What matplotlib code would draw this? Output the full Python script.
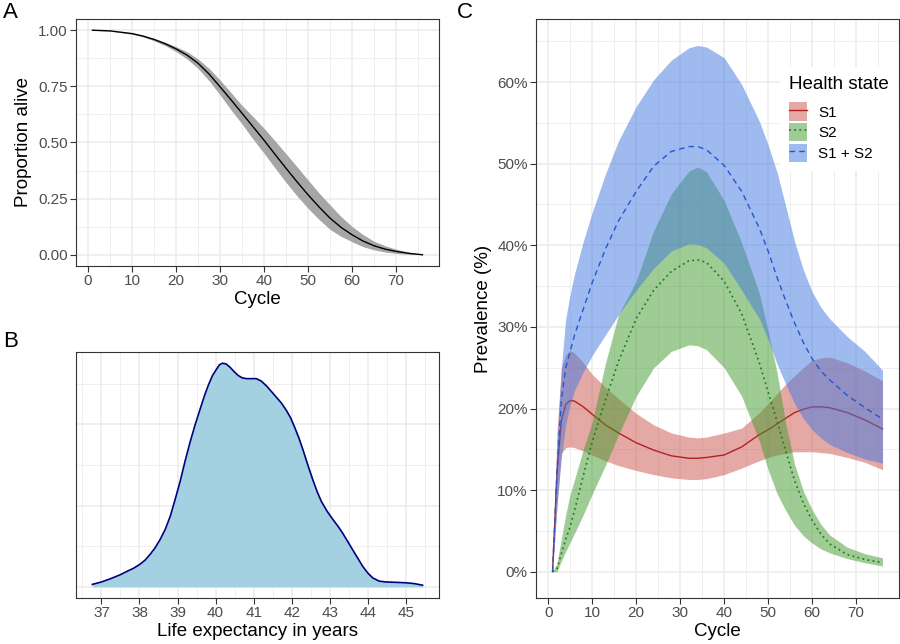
import numpy as np
import matplotlib
matplotlib.use("Agg")
import matplotlib.pyplot as plt
from matplotlib.patches import Patch
from matplotlib.lines import Line2D
from matplotlib.legend_handler import HandlerTuple
from matplotlib.ticker import MultipleLocator, FormatStrFormatter, PercentFormatter, NullFormatter

plt.rcParams['font.family'] = ['Liberation Sans', 'DejaVu Sans']

# ---- data ----
# A) survival curve
cycles_a = [1, 5, 10, 12.5, 15, 17.5, 20, 22.5, 25, 27.5, 30, 32.5, 35, 37.5, 40, 42.5, 45,
            47.5, 50, 52.5, 55, 57.5, 60, 62.5, 65, 67.5, 70, 73, 76]
surv_mean = [1.000, 0.997, 0.985, 0.974, 0.959, 0.940, 0.917, 0.889, 0.853, 0.805, 0.748,
             0.690, 0.630, 0.570, 0.510, 0.447, 0.385, 0.325, 0.267, 0.213, 0.163, 0.122,
             0.089, 0.061, 0.040, 0.025, 0.015, 0.006, 0.000]
surv_lo = [1.000, 0.996, 0.982, 0.970, 0.953, 0.932, 0.905, 0.872, 0.830, 0.775, 0.712,
           0.645, 0.582, 0.515, 0.452, 0.386, 0.322, 0.262, 0.207, 0.157, 0.113, 0.082,
           0.058, 0.036, 0.022, 0.012, 0.006, 0.002, 0.000]
surv_hi = [1.000, 0.998, 0.988, 0.977, 0.964, 0.947, 0.927, 0.904, 0.872, 0.830, 0.778,
           0.722, 0.665, 0.615, 0.563, 0.507, 0.450, 0.392, 0.333, 0.275, 0.222, 0.170,
           0.126, 0.090, 0.060, 0.040, 0.025, 0.011, 0.001]

# B) density of life expectancy
le_years = [36.76, 37.0, 37.24, 37.5, 37.67, 37.85, 38.02, 38.15, 38.28, 38.41, 38.54, 38.68,
            38.81, 38.94, 39.07, 39.2, 39.33, 39.46, 39.59, 39.70, 39.81, 39.92, 40.03, 40.10,
            40.18, 40.28, 40.38, 40.48, 40.59, 40.70, 40.81, 40.94, 41.07, 41.2, 41.34, 41.47,
            41.60, 41.73, 41.86, 41.97, 42.08, 42.19, 42.30, 42.43, 42.56, 42.67, 42.78, 42.93,
            43.08, 43.21, 43.34, 43.47, 43.61, 43.74, 43.87, 44.0, 44.13, 44.3, 44.48, 44.75,
            45.0, 45.22, 45.44]
le_density = [0.003, 0.006, 0.010, 0.015, 0.019, 0.023, 0.028, 0.033, 0.040, 0.048, 0.058,
              0.071, 0.087, 0.108, 0.130, 0.155, 0.178, 0.199, 0.218, 0.234, 0.248, 0.260,
              0.268, 0.273, 0.275, 0.274, 0.270, 0.265, 0.260, 0.257, 0.256, 0.256, 0.256,
              0.253, 0.247, 0.240, 0.233, 0.226, 0.217, 0.208, 0.196, 0.183, 0.168, 0.149,
              0.131, 0.117, 0.105, 0.093, 0.083, 0.075, 0.066, 0.056, 0.045, 0.035, 0.025,
              0.017, 0.011, 0.007, 0.006, 0.0055, 0.005, 0.004, 0.002]

# C) prevalence by health state (%)
cycles_c = [1, 2, 3, 4, 5, 6, 8, 10, 13, 16, 20, 24, 28, 32, 34, 36, 40, 44, 48, 50, 52, 54,
            56, 58, 60, 62, 64, 68, 72, 76]
s1_mean = [0, 12, 18.5, 20.5, 21.0, 20.9, 20.2, 19.3, 18.0, 17.0, 15.8, 14.9, 14.2, 13.9,
           13.9, 14.0, 14.3, 15.3, 16.8, 17.4, 18.1, 18.8, 19.5, 19.9, 20.2, 20.2, 20.1,
           19.5, 18.6, 17.5]
s1_lo = [0, 8, 14.5, 15.2, 15.3, 15.2, 14.8, 14.3, 13.6, 13.0, 12.4, 11.9, 11.5, 11.3,
         11.3, 11.4, 11.9, 12.7, 13.6, 14.0, 14.3, 14.5, 14.7, 14.7, 14.7, 14.6, 14.5,
         14.0, 13.4, 12.5]
s1_hi = [0, 17, 25.0, 26.6, 27.1, 26.8, 25.6, 24.2, 22.6, 21.2, 19.4, 18.0, 17.0, 16.5,
         16.4, 16.5, 17.0, 17.6, 19.5, 20.6, 21.8, 23.0, 24.0, 25.0, 25.9, 26.2, 26.3,
         25.6, 24.6, 23.4]
s2_mean = [0, 0.3, 2.2, 4.0, 5.5, 7.5, 11.8, 15.9, 21.0, 25.8, 31.0, 34.5, 36.8, 38.1,
           38.2, 37.9, 35.6, 31.6, 25.6, 22.0, 18.5, 14.8, 11.2, 8.4, 6.3, 4.6, 3.4, 2.1,
           1.5, 1.1]
s2_lo = [0, 0, 1.3, 2.5, 3.6, 4.7, 7.0, 9.5, 13.0, 16.8, 21.5, 25.0, 27.0, 27.8, 27.7,
         27.2, 25.0, 21.5, 16.0, 12.5, 9.6, 7.5, 5.7, 4.4, 3.5, 2.8, 2.3, 1.6, 1.1, 0.7]
s2_hi = [0, 1.0, 4.0, 7.0, 9.5, 11.3, 15.0, 18.3, 25.5, 31.5, 35.6, 41.8, 46.3, 49.1,
         49.6, 49.0, 45.5, 40.3, 34.1, 29.5, 24.5, 18.2, 13.2, 9.9, 7.6, 5.8, 4.5, 3.0,
         2.2, 1.7]
s12_mean = [0, 12, 21, 25, 27.0, 29.0, 32.2, 35.4, 39.5, 43.0, 46.6, 49.7, 51.5, 52.1,
            52.1, 51.7, 49.8, 46.6, 42.1, 39.3, 36.1, 33.2, 30.5, 28.1, 26.1, 24.6, 23.5,
            21.6, 20.1, 18.7]
s12_lo = [0, 8, 14, 18, 20.5, 22.2, 24.5, 26.5, 29.0, 31.5, 34.5, 37.2, 39.3, 40.2, 40.1,
          39.7, 37.8, 34.5, 31.0, 28.5, 25.5, 23.0, 20.6, 18.8, 17.4, 16.4, 15.6, 14.6,
          13.8, 13.3]
s12_hi = [0, 16, 25, 31, 34, 36.5, 40.5, 44, 48.7, 52.8, 57, 60.3, 62.7, 64.2, 64.5, 64.3,
          63.0, 59.7, 55.2, 52.3, 49.0, 44.8, 40.5, 37.0, 34.3, 32.4, 31.0, 28.8, 27.0, 24.7]
state_labels = ["S1", "S2", "S1 + S2"]


def style_axes(ax):
    # theme_bw look
    ax.set_facecolor("white")
    for sp in ax.spines.values():
        sp.set_color("#333333")
        sp.set_linewidth(0.8)
    ax.grid(which="major", color="#EBEBEB", linewidth=1.1, zorder=0)
    ax.grid(which="minor", color="#EBEBEB", linewidth=0.55, zorder=0)
    ax.set_axisbelow(True)
    ax.tick_params(which="major", length=4, width=0.8, color="#333333",
                   labelsize=11, labelcolor="#4D4D4D", pad=2)
    ax.tick_params(which="minor", length=0)


fig = plt.figure(figsize=(9, 6.44), dpi=100)

# A) proportion alive
axA = fig.add_axes([0.0844, 0.587, 0.4033, 0.3835])
style_axes(axA)
axA.fill_between(cycles_a, surv_lo, surv_hi, color="#A6A6A6", linewidth=0, zorder=2)
axA.plot(cycles_a, surv_mean, color="black", linewidth=1.0, zorder=3)
axA.set_xlim(-2.75, 79.75)
axA.set_ylim(-0.05, 1.05)
axA.xaxis.set_major_locator(MultipleLocator(10))
axA.xaxis.set_minor_locator(MultipleLocator(5))
axA.yaxis.set_major_locator(MultipleLocator(0.25))
axA.yaxis.set_minor_locator(MultipleLocator(0.125))
axA.yaxis.set_major_formatter(FormatStrFormatter("%.2f"))
axA.set_xlabel("Cycle", fontsize=13.5, labelpad=2)
axA.set_ylabel("Proportion alive", fontsize=13.5, labelpad=4)

# B) life expectancy density
axB = fig.add_axes([0.0844, 0.0714, 0.4033, 0.382])
style_axes(axB)
axB.fill_between(le_years, 0, le_density, color="#A3D1E1", linewidth=0, zorder=2)
axB.plot(le_years, le_density, color="#000080", linewidth=1.2, zorder=3)
axB.set_xlim(36.33, 45.87)
axB.set_ylim(-0.01375, 0.28875)
axB.xaxis.set_major_locator(MultipleLocator(1))
axB.xaxis.set_minor_locator(MultipleLocator(0.5))
axB.yaxis.set_major_locator(MultipleLocator(0.1))
axB.yaxis.set_minor_locator(MultipleLocator(0.05))
axB.yaxis.set_major_formatter(NullFormatter())
axB.tick_params(axis="y", which="both", length=0)
axB.set_xlabel("Life expectancy in years", fontsize=13.5, labelpad=2)

# C) prevalence
axC = fig.add_axes([0.5956, 0.0714, 0.4033, 0.899])
style_axes(axC)
fills = ["#CB534D", "#3F9B2B", "#4177DF"]
lines = ["#B22222", "#1E7B1E", "#2257D6"]
styles = ["-", (0, (1.1, 2.0)), (0, (4, 3))]
widths = [1.0, 1.2, 1.0]
series = [(s1_lo, s1_hi, s1_mean), (s2_lo, s2_hi, s2_mean), (s12_lo, s12_hi, s12_mean)]
handles = []
for i, (lo, hi, mn) in enumerate(series):
    axC.fill_between(cycles_c, lo, hi, color=fills[i], alpha=0.5, linewidth=0, zorder=2 + 2 * i)
    axC.plot(cycles_c, mn, color=lines[i], linestyle=styles[i], linewidth=widths[i],
             zorder=3 + 2 * i)
    handles.append((Patch(facecolor=fills[i], alpha=0.5, linewidth=0),
                    Line2D([0], [0], color=lines[i], linestyle=styles[i], linewidth=widths[i])))
axC.set_xlim(-2.75, 79.75)
axC.set_ylim(-3.225, 67.725)
axC.xaxis.set_major_locator(MultipleLocator(10))
axC.xaxis.set_minor_locator(MultipleLocator(5))
axC.yaxis.set_major_locator(MultipleLocator(10))
axC.yaxis.set_minor_locator(MultipleLocator(5))
axC.yaxis.set_major_formatter(PercentFormatter(xmax=100, decimals=0))
axC.set_xlabel("Cycle", fontsize=13.5, labelpad=2)
axC.set_ylabel("Prevalence (%)", fontsize=13.5, labelpad=4)

leg = axC.legend(handles, state_labels, handler_map={tuple: HandlerTuple(ndivide=1)},
                 title="Health state", title_fontsize=13.5, fontsize=11,
                 loc="upper left", bbox_to_anchor=(0.672, 0.918), borderaxespad=0,
                 frameon=True, fancybox=False, framealpha=1, edgecolor="none",
                 facecolor="white", handlelength=1.2, handleheight=1.46,
                 labelspacing=0.16, handletextpad=0.7, borderpad=0.6, alignment="left")
leg._legend_box.sep = 7  # gap between title and keys
leg.set_zorder(20)

# panel tags
fig.text(0.003, 0.997, "A", fontsize=16, va="top", ha="left")
fig.text(0.003, 0.486, "B", fontsize=16, va="top", ha="left")
fig.text(0.508, 0.997, "C", fontsize=16, va="top", ha="left")

fig.savefig("out.png", dpi=100)
